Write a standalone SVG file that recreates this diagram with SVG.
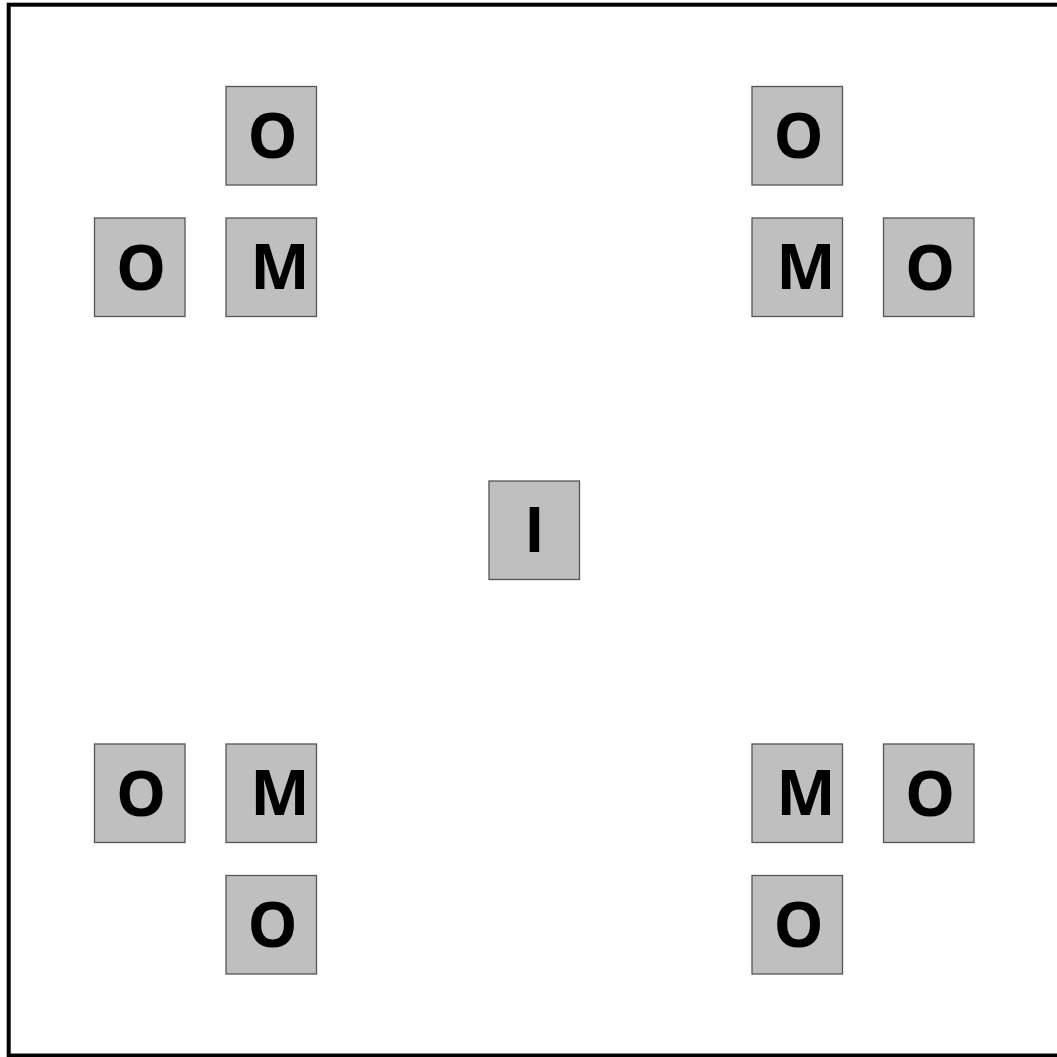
<svg xmlns="http://www.w3.org/2000/svg" width="1057" height="1057" viewBox="0 0 1057 1057">
<style>
.box{fill:#bfbfbf;stroke:#555555;stroke-width:1.3}
.t{font-family:"Open Sans","Liberation Sans",sans-serif;font-weight:bold;font-size:63px;fill:#000;text-anchor:middle}
</style>
<rect x="0" y="0" width="1057" height="1057" fill="#ffffff"/>
<rect x="8.7" y="4.7" width="1060" height="1050.8" fill="none" stroke="#000" stroke-width="4"/>
<g id="tl-o1"><rect class="box" x="226" y="86.5" width="90.5" height="98.5"/><text class="t" x="272.5" y="158">O</text></g>
<g id="tl-o2"><rect class="box" x="94.5" y="218" width="90.5" height="98.5"/><text class="t" x="141" y="289.5">O</text></g>
<g id="tl-m"><rect class="box" x="226" y="218" width="90.5" height="98.5"/><text class="t" x="280" y="288.5">M</text></g>
<g id="tr-o1"><rect class="box" x="752" y="86.5" width="90.5" height="98.5"/><text class="t" x="798.5" y="158">O</text></g>
<g id="tr-m"><rect class="box" x="752" y="218" width="90.5" height="98.5"/><text class="t" x="806" y="288.5">M</text></g>
<g id="tr-o2"><rect class="box" x="883.5" y="218" width="90.5" height="98.5"/><text class="t" x="930" y="289.5">O</text></g>
<g id="center-i"><rect class="box" x="489" y="481" width="90.5" height="98.5"/><text class="t" x="534.5" y="551.5">I</text></g>
<g id="bl-o1"><rect class="box" x="94.5" y="744" width="90.5" height="98.5"/><text class="t" x="141" y="815.5">O</text></g>
<g id="bl-m"><rect class="box" x="226" y="744" width="90.5" height="98.5"/><text class="t" x="280" y="814.5">M</text></g>
<g id="bl-o2"><rect class="box" x="226" y="875.5" width="90.5" height="98.5"/><text class="t" x="272.5" y="947">O</text></g>
<g id="br-m"><rect class="box" x="752" y="744" width="90.5" height="98.5"/><text class="t" x="806" y="814.5">M</text></g>
<g id="br-o1"><rect class="box" x="883.5" y="744" width="90.5" height="98.5"/><text class="t" x="930" y="815.5">O</text></g>
<g id="br-o2"><rect class="box" x="752" y="875.5" width="90.5" height="98.5"/><text class="t" x="798.5" y="947">O</text></g>
<g id="connectors"></g>
</svg>
